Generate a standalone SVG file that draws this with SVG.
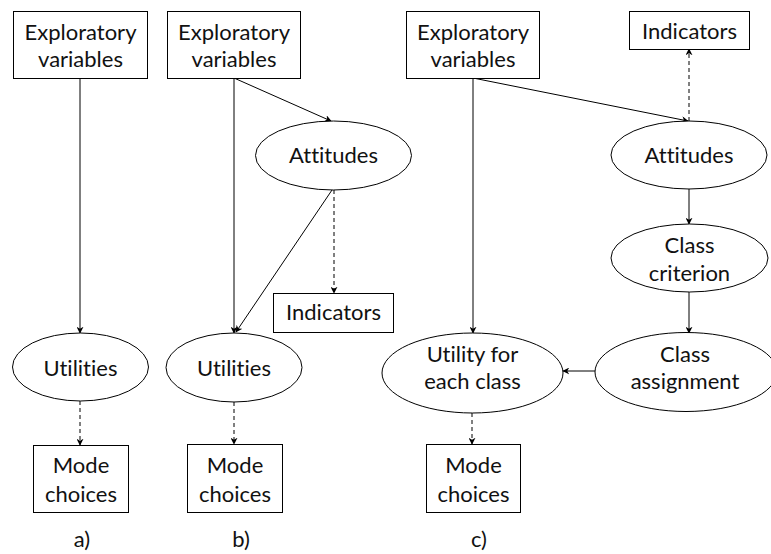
<svg xmlns="http://www.w3.org/2000/svg" width="771" height="554" viewBox="0 0 771 554">
  <style>
    .box { fill: #fff; stroke: #000; stroke-width: 1; }
    .oval { fill: #fff; stroke: #000; stroke-width: 1; }
    .lbl { font-family: Lato, "Liberation Sans", sans-serif; font-size: 22px; fill: #111; text-anchor: middle; font-variant-ligatures: none; font-feature-settings: "liga" 0, "clig" 0; }
    .edge { fill: none; stroke: #000; stroke-width: 1; marker-end: url(#arrow); }
    .dash { stroke-dasharray: 4 3; }
  </style>
  <defs>
    <marker id="arrow" viewBox="0 0 10 10" refX="9" refY="5" markerWidth="7" markerHeight="7" markerUnits="userSpaceOnUse" orient="auto">
      <path d="M0,0 L10,5 L0,10 L3,5 z" fill="#000"/>
    </marker>
  </defs>

  <rect width="771" height="554" fill="#fff"/>

  <!-- connectors -->
  <g id="connectors">
    <!-- a) -->
    <path class="edge" d="M80,78 L80,333"/>
    <path class="edge dash" d="M80,401 L80,445"/>
    <!-- b) -->
    <path class="edge" d="M234,78 L234,333"/>
    <path class="edge" d="M234,78 L331,121"/>
    <path class="edge" d="M332,190 L236,332"/>
    <path class="edge dash" d="M334,190 L334,293"/>
    <path class="edge dash" d="M234,402 L234,444"/>
    <!-- c) -->
    <path class="edge" d="M473,78 L473,333"/>
    <path class="edge" d="M473,78 L688,121"/>
    <path class="edge dash" d="M689,121 L689,49"/>
    <path class="edge" d="M689,189 L689,224"/>
    <path class="edge" d="M689,292 L689,333"/>
    <path class="edge" d="M595,371 L563,371"/>
    <path class="edge dash" d="M472,413 L472,444"/>
  </g>

  <!-- a) nodes -->
  <g id="a-explanatory">
    <rect class="box" x="13.5" y="11.5" width="134" height="67"/>
    <text class="lbl" x="80.5" y="40">Exploratory</text>
    <text class="lbl" x="80.5" y="67">variables</text>
  </g>
  <g id="a-utilities">
    <ellipse class="oval" cx="80.5" cy="367" rx="68" ry="34"/>
    <text class="lbl" x="80.5" y="376">Utilities</text>
  </g>
  <g id="a-mode">
    <rect class="box" x="33.5" y="445.5" width="95" height="67"/>
    <text class="lbl" x="81" y="473">Mode</text>
    <text class="lbl" x="81" y="502">choices</text>
  </g>

  <!-- b) nodes -->
  <g id="b-explanatory">
    <rect class="box" x="167.5" y="11.5" width="133" height="67"/>
    <text class="lbl" x="234" y="40">Exploratory</text>
    <text class="lbl" x="234" y="67">variables</text>
  </g>
  <g id="b-attitudes">
    <ellipse class="oval" cx="333.5" cy="155.5" rx="78" ry="34.5"/>
    <text class="lbl" x="333.5" y="163">Attitudes</text>
  </g>
  <g id="b-indicators">
    <rect class="box" x="273.5" y="293.5" width="120" height="39"/>
    <text class="lbl" x="333.5" y="320">Indicators</text>
  </g>
  <g id="b-utilities">
    <ellipse class="oval" cx="234" cy="367.5" rx="68" ry="34.5"/>
    <text class="lbl" x="234" y="376">Utilities</text>
  </g>
  <g id="b-mode">
    <rect class="box" x="187.5" y="444.5" width="95" height="68"/>
    <text class="lbl" x="235" y="473">Mode</text>
    <text class="lbl" x="235" y="502">choices</text>
  </g>

  <!-- c) nodes -->
  <g id="c-explanatory">
    <rect class="box" x="406.5" y="11.5" width="133" height="67"/>
    <text class="lbl" x="473" y="40">Exploratory</text>
    <text class="lbl" x="473" y="67">variables</text>
  </g>
  <g id="c-indicators">
    <rect class="box" x="629.5" y="11.5" width="120" height="38"/>
    <text class="lbl" x="689.5" y="39">Indicators</text>
  </g>
  <g id="c-attitudes">
    <ellipse class="oval" cx="689" cy="155" rx="78" ry="34"/>
    <text class="lbl" x="689" y="163">Attitudes</text>
  </g>
  <g id="c-criterion">
    <ellipse class="oval" cx="689.5" cy="258" rx="78.5" ry="34"/>
    <text class="lbl" x="689.5" y="253">Class</text>
    <text class="lbl" x="689.5" y="281">criterion</text>
  </g>
  <g id="c-assignment">
    <ellipse class="oval" cx="686" cy="372" rx="91" ry="39.5"/>
    <text class="lbl" x="685" y="362">Class</text>
    <text class="lbl" x="685" y="389">assignment</text>
  </g>
  <g id="c-utility">
    <ellipse class="oval" cx="472.5" cy="373" rx="90.5" ry="40"/>
    <text class="lbl" x="472.5" y="362">Utility for</text>
    <text class="lbl" x="472.5" y="389">each class</text>
  </g>
  <g id="c-mode">
    <rect class="box" x="426.5" y="444.5" width="94" height="68"/>
    <text class="lbl" x="473.5" y="473">Mode</text>
    <text class="lbl" x="473.5" y="502">choices</text>
  </g>

  <!-- panel captions -->
  <g id="captions">
    <text class="lbl" x="82" y="547">a)</text>
    <text class="lbl" x="241" y="547">b)</text>
    <text class="lbl" x="479" y="547">c)</text>
  </g>
</svg>
